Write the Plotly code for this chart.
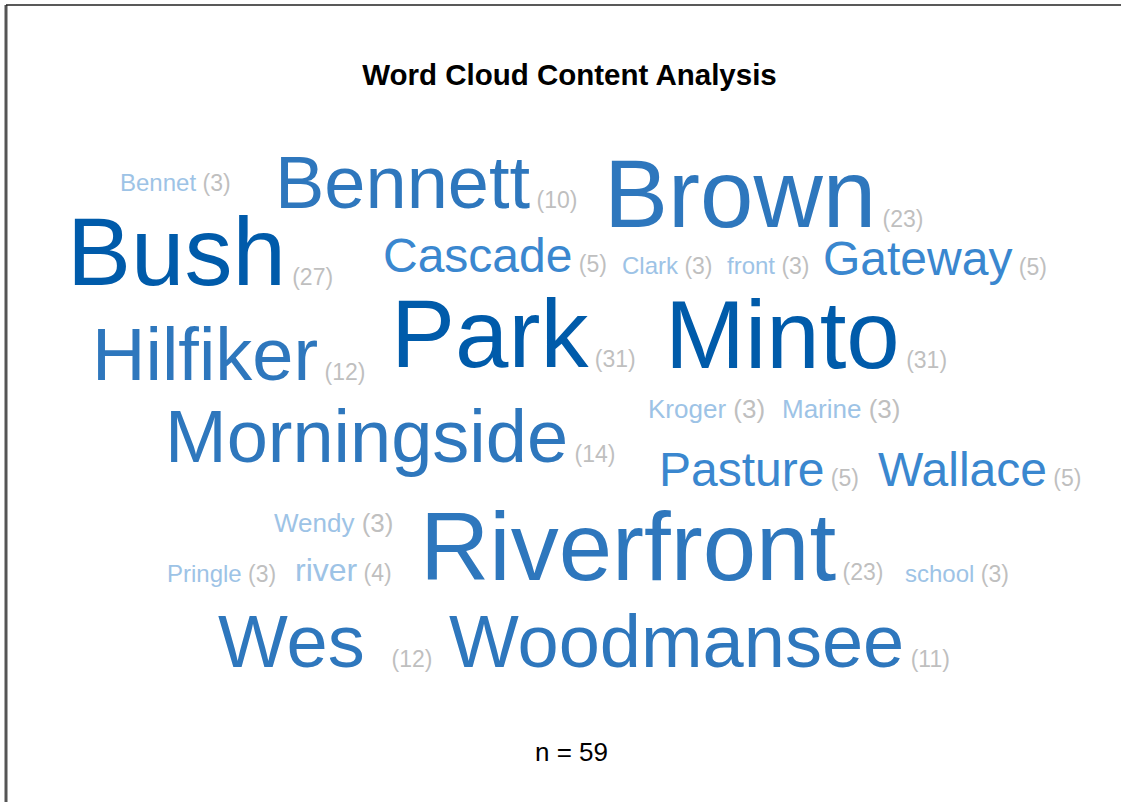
import plotly.graph_objects as go

# word cloud terms and their mention counts
words = ["Bennet", "Bennett", "Brown", "Bush", "Cascade", "Clark", "front", "Gateway",
         "Hilfiker", "Park", "Minto", "Kroger", "Marine", "Morningside", "Pasture",
         "Wallace", "Wendy", "Pringle", "river", "Riverfront", "school", "Wes\u00a0",
         "Woodmansee"]
counts = [3, 10, 23, 27, 5, 3, 3, 5, 12, 31, 31, 3, 3, 14, 5, 5, 3, 3, 4, 23, 3, 12, 11]

# cloud layout: left edge and baseline of each word (cloud units = pixels)
word_x = [120, 275, 604, 67, 383, 622, 727, 823, 92, 391, 665, 648, 782, 165, 659,
          878, 274, 167, 295, 420, 905, 218, 449]
word_y = [191, 209, 229, 287, 273, 274, 274, 276, 381, 369, 370, 419, 419, 463, 487,
          487, 533, 582, 582, 582, 582, 668, 668]

n_total = 59
chart_title = "Word Cloud Content Analysis"

# a few small terms were set slightly larger in the original cloud
larger_small = {"Kroger", "Marine", "Wendy"}


def font_size(c):
    if c >= 23:
        return 96
    if c >= 10:
        return 74
    if c >= 5:
        return 48
    if c == 4:
        return 32
    return 24


def font_color(c):
    if c >= 27:
        return "#005BAA"
    if c >= 10:
        return "#2E77BD"
    if c >= 5:
        return "#3A87CF"
    return "#9DC3E6"


sizes = [26 if w in larger_small else font_size(c) for w, c in zip(words, counts)]
colors = [font_color(c) for c in counts]
count_sizes = [26 if w in larger_small else 23 for w in words]
labels = [
    f"{w}<span style='font-size:{cs}px;fill:#BFBFBF'> ({c})</span>"
    for w, c, cs in zip(words, counts, count_sizes)
]
# place baseline: plotly 'middle' text sits ~0.25em above the baseline
ys = [y - 0.27 * s for y, s in zip(word_y, sizes)]

fig = go.Figure()

fig.add_trace(go.Scatter(
    x=word_x,
    y=ys,
    mode="text",
    text=labels,
    textposition="middle right",
    textfont=dict(family="Liberation Sans, Arial, sans-serif", size=sizes, color=colors),
    hoverinfo="skip",
    showlegend=False
))

fig.add_annotation(
    x=0.51, y=(802 - 752) / 802, xref="paper", yref="paper",
    xanchor="center", yanchor="middle",
    text=f"n = {n_total}", showarrow=False,
    font=dict(family="Liberation Sans, Arial, sans-serif", size=26, color="black")
)

# frame edges visible in the crop
fig.add_shape(type="line", xref="paper", yref="paper",
              x0=6 / 1121, x1=6 / 1121, y0=0, y1=1 - 5 / 802,
              line=dict(color="#555555", width=3))
fig.add_shape(type="line", xref="paper", yref="paper",
              x0=6 / 1121, x1=1, y0=1 - 5 / 802, y1=1 - 5 / 802,
              line=dict(color="#222222", width=1.5))

fig.update_xaxes(range=[0, 1121], visible=False, fixedrange=True)
fig.update_yaxes(range=[802, 0], visible=False, fixedrange=True)

fig.update_layout(
    title=dict(text=f"<b>{chart_title}</b>", x=0.508, xanchor="center",
               y=1 - 75 / 802, yanchor="middle",
               font=dict(family="Liberation Sans, Arial, sans-serif", size=29.5, color="black")),
    width=1121,
    height=802,
    margin=dict(l=0, r=0, t=0, b=0),
    plot_bgcolor="white",
    paper_bgcolor="white"
)

fig.write_html("out.html", config={"displayModeBar": False},
               post_script="document.body.style.margin='0';")
